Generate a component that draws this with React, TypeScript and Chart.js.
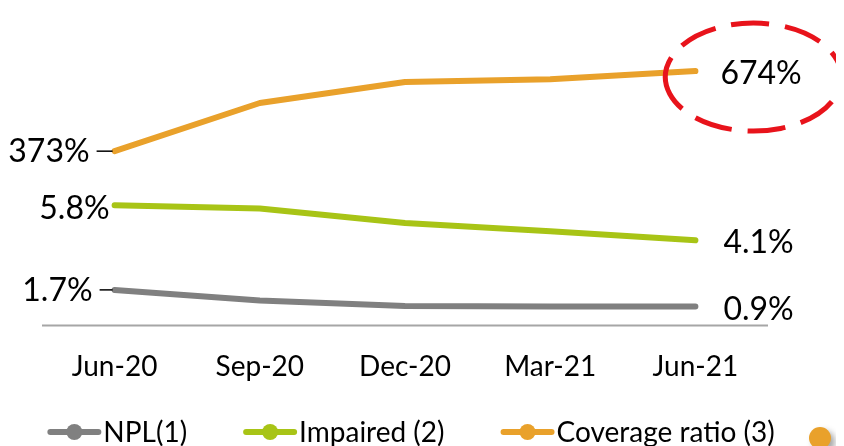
import React, { useEffect, useRef } from "react";
import { Chart, registerables } from "chart.js";

Chart.register(...registerables);

const categories = ["Jun-20", "Sep-20", "Dec-20", "Mar-21", "Jun-21"];
const nplValues = [1.7, 1.19, 0.92, 0.9, 0.9];
const impairedValues = [5.8, 5.64, 4.94, 4.54, 4.1];
const coverageValues = [373, 554, 633, 643, 674];
const seriesLabels = ["NPL(1)", "Impaired (2)", "Coverage ratio (3)"];
const seriesColors = ["#808080", "#A8C416", "#E9A12B"];

const FONT = "Lato, 'Open Sans', sans-serif";

const fmt = (dsIndex: number, v: number) =>
  dsIndex === 2 ? `${Math.round(v)}%` : `${v.toFixed(1)}%`;

const axisLinePlugin = {
  id: "axisLine",
  beforeDatasetsDraw(chart: any) {
    const { ctx, chartArea } = chart;
    ctx.save();
    ctx.strokeStyle = "#A6A6A6";
    ctx.lineWidth = 2;
    ctx.beginPath();
    ctx.moveTo(chartArea.left, chartArea.bottom);
    ctx.lineTo(chartArea.right, chartArea.bottom);
    ctx.stroke();
    ctx.restore();
  },
};

const overlayPlugin = {
  id: "overlay",
  afterDraw(chart: any) {
    const ctx = chart.ctx as CanvasRenderingContext2D;
    ctx.save();
    // data labels
    const specs = [
      { ds: 0, left: { dx: -22, dy: 1, tick: true }, right: { dx: 28, dy: 3 } },
      { ds: 1, left: { dx: -5, dy: 3, tick: false }, right: { dx: 28, dy: 2 } },
      { ds: 2, left: { dx: -25, dy: 1, tick: true }, right: { dx: 25, dy: 3 } },
    ];
    ctx.font = `32px ${FONT}`;
    ctx.fillStyle = "#000";
    ctx.textBaseline = "middle";
    specs.forEach((s) => {
      const meta = chart.getDatasetMeta(s.ds);
      const data = chart.data.datasets[s.ds].data as number[];
      const p0 = meta.data[0];
      const pN = meta.data[data.length - 1];
      ctx.textAlign = "right";
      ctx.fillText(fmt(s.ds, data[0]), p0.x + s.left.dx, p0.y + s.left.dy);
      if (s.left.tick) {
        ctx.strokeStyle = "#000";
        ctx.lineWidth = 1.5;
        ctx.setLineDash([]);
        ctx.beginPath();
        ctx.moveTo(p0.x + s.left.dx + 7, p0.y);
        ctx.lineTo(p0.x - 2, p0.y);
        ctx.stroke();
      }
      ctx.textAlign = "left";
      ctx.fillText(fmt(s.ds, data[data.length - 1]), pN.x + s.right.dx, pN.y + s.right.dy);
    });

    // red dashed ellipse around last coverage value
    const cov = chart.getDatasetMeta(2).data;
    const last = cov[cov.length - 1];
    ctx.strokeStyle = "#E8131B";
    ctx.lineWidth = 5;
    ctx.setLineDash([38, 16]);
    ctx.beginPath();
    ctx.ellipse(last.x + 58, last.y + 6, 88, 54, 0, Math.PI * 0.9, Math.PI * 2.9);
    ctx.stroke();
    ctx.setLineDash([]);

    // legend
    ctx.font = `28px ${FONT}`;
    ctx.textAlign = "left";
    ctx.textBaseline = "middle";
    const lineW = 54;
    const textGap = 2;
    const itemGap = 56;
    const widths = seriesLabels.map((l) => lineW + textGap + ctx.measureText(l).width);
    const total = widths.reduce((a, b) => a + b, 0) + itemGap * (widths.length - 1);
    let x = 403 - total / 2;
    const y = 424;
    seriesLabels.forEach((label, i) => {
      ctx.strokeStyle = seriesColors[i];
      ctx.fillStyle = seriesColors[i];
      ctx.lineWidth = 6;
      ctx.lineCap = "round";
      ctx.beginPath();
      ctx.moveTo(x + 3, y);
      ctx.lineTo(x + lineW - 3, y);
      ctx.stroke();
      ctx.beginPath();
      ctx.arc(x + lineW / 2, y, 8, 0, Math.PI * 2);
      ctx.fill();
      ctx.fillStyle = "#000";
      ctx.fillText(label, x + lineW + textGap, y + 1);
      x += widths[i] + itemGap;
    });

    // decorative orange dot with shadow
    ctx.save();
    ctx.shadowColor = "rgba(0,0,0,0.35)";
    ctx.shadowBlur = 6;
    ctx.shadowOffsetX = 4;
    ctx.shadowOffsetY = 4;
    ctx.fillStyle = "#E9A12B";
    ctx.beginPath();
    ctx.arc(812, 430, 11, 0, Math.PI * 2);
    ctx.fill();
    ctx.restore();

    ctx.restore();
  },
};

export default function App() {
  const ref = useRef<HTMLCanvasElement>(null);
  useEffect(() => {
    if (!ref.current) return;
    const chart = new Chart(ref.current, {
      type: "line",
      data: {
        labels: categories,
        datasets: [
          { label: seriesLabels[0], data: nplValues, yAxisID: "y", borderColor: seriesColors[0] },
          { label: seriesLabels[1], data: impairedValues, yAxisID: "y", borderColor: seriesColors[1] },
          { label: seriesLabels[2], data: coverageValues, yAxisID: "y1", borderColor: seriesColors[2] },
        ].map((d) => ({
          ...d,
          borderWidth: 6,
          pointRadius: 0,
          pointHoverRadius: 0,
          tension: 0,
          fill: false,
          borderCapStyle: "round" as const,
          borderJoinStyle: "round" as const,
        })),
      },
      options: {
        animation: false,
        responsive: false,
        layout: { padding: { left: 34, right: 68, top: 12, bottom: 37 } },
        plugins: { legend: { display: false }, tooltip: { enabled: false } },
        scales: {
          x: {
            offset: true,
            grid: { display: false, drawTicks: false },
            border: { display: false },
            ticks: { color: "#000", padding: 25, font: { family: FONT, size: 28 } },
          },
          y: { display: false, min: -0.02, max: 14.77 },
          y1: { display: false, min: -281.7, max: 865.9 },
        },
      },
      plugins: [axisLinePlugin, overlayPlugin],
    });
    return () => chart.destroy();
  }, []);
  return (
    <div style={{ width: 828, height: 438 }}>
      <canvas ref={ref} width={828} height={438} />
    </div>
  );
}
